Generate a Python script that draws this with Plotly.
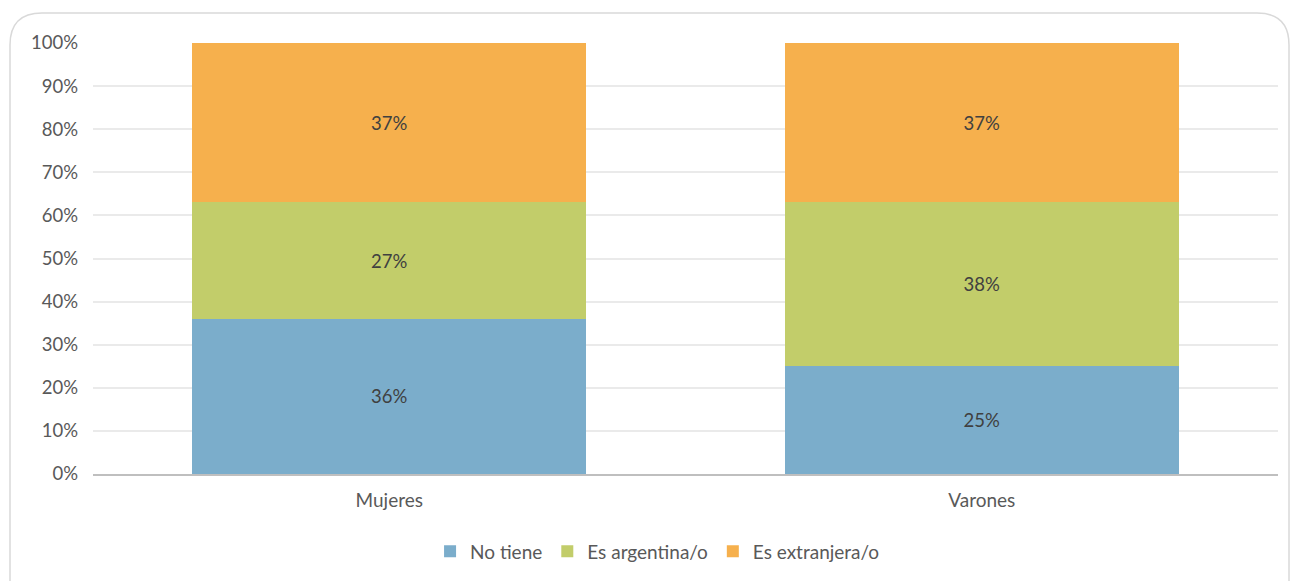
import plotly.graph_objects as go

categorias = ["Mujeres", "Varones"]
no_tiene = [36, 25]
argentina = [27, 38]
extranjera = [37, 37]

series = [
    ("No tiene", no_tiene, "#7BADCB"),
    ("Es argentina/o", argentina, "#C2CD6A"),
    ("Es extranjera/o", extranjera, "#F6B04D"),
]

W, H = 1295, 581
ml, mr, mt, mb = 93, 17, 43, 106

fig = go.Figure()
for nombre, valores, color in series:
    fig.add_trace(go.Bar(
        x=categorias,
        y=valores,
        name=nombre,
        marker=dict(color=color, line=dict(width=0)),
        text=[f"{v}%" for v in valores],
        textposition="inside",
        insidetextanchor="middle",
        textfont=dict(size=18.5, color="#404040"),
    ))

# rounded frame around the chart (pixel -> paper coords)
pw, ph = W - ml - mr, H - mt - mb
def px(x):
    return (x - ml) / pw
def py(y):
    return (H - mb - y) / ph
x0, x1, y0, y1, r = 10, 1289, 13, 600, 32
path = (f"M {px(x0)},{py(y1)} L {px(x0)},{py(y0 + r)} "
        f"Q {px(x0)},{py(y0)} {px(x0 + r)},{py(y0)} "
        f"L {px(x1 - r)},{py(y0)} Q {px(x1)},{py(y0)} {px(x1)},{py(y0 + r)} "
        f"L {px(x1)},{py(y1)}")
fig.add_shape(type="path", path=path, xref="paper", yref="paper",
              line=dict(color="#D9D9D9", width=1.5), layer="below")

fig.update_layout(
    barmode="stack",
    bargap=0.335,
    width=W,
    height=H,
    margin=dict(l=ml, r=mr, t=mt, b=mb),
    plot_bgcolor="white",
    paper_bgcolor="white",
    font=dict(family="Lato, Open Sans, sans-serif", size=18.5, color="#595959"),
    uniformtext=dict(minsize=10, mode="show"),
    legend=dict(orientation="h", x=0.476, xanchor="center", y=-0.177, yanchor="middle",
                font=dict(size=19, color="#595959"), traceorder="normal",
                itemwidth=30),
    xaxis=dict(showline=True, linecolor="#BFBFBF", linewidth=1.5,
               ticks="", ticklabelstandoff=8, tickfont=dict(size=19, color="#595959")),
    yaxis=dict(range=[0, 100], dtick=10, ticksuffix="%", showgrid=True,
               gridcolor="#EAEAEA", gridwidth=1.5, zeroline=False,
               ticklabelstandoff=14, tickfont=dict(size=18.5, color="#595959")),
)

fig.write_html("out.html", config={"displayModeBar": False},
               post_script="document.body.style.margin='0';")
